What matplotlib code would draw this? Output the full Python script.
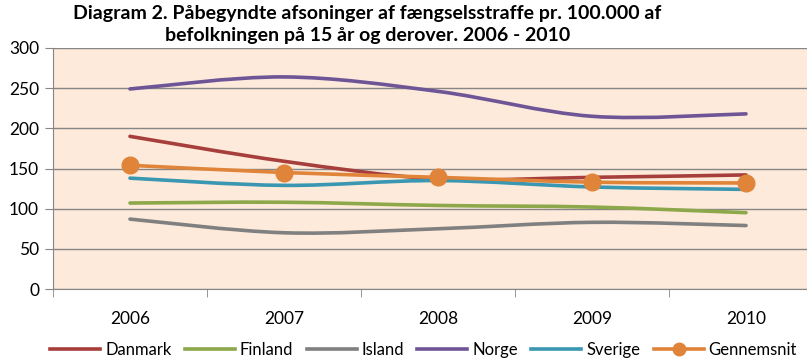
import matplotlib
matplotlib.use("Agg")
import matplotlib.pyplot as plt
from matplotlib.path import Path
from matplotlib.patches import PathPatch
from matplotlib.lines import Line2D
import numpy as np

years = ["2006", "2007", "2008", "2009", "2010"]
danmark = [190, 159, 137, 139, 142]
finland = [107, 108, 104, 102, 95]
island = [87, 70, 75, 83, 79]
norge = [249, 264, 246, 215, 218]
sverige = [138, 129, 135, 127, 124]
gennemsnit = [154, 145, 139, 133, 132]

series = [
    ("Danmark", danmark, "#A63F3C"),
    ("Finland", finland, "#8CA84A"),
    ("Island", island, "#808080"),
    ("Norge", norge, "#6E5596"),
    ("Sverige", sverige, "#3A97B1"),
    ("Gennemsnit", gennemsnit, "#E0843A"),
]

plt.rcParams['font.family'] = ['Lato', 'DejaVu Sans']


def smooth_path(xs, ys):
    # catmull-rom style bezier segments, like Excel's smoothed lines
    pts = np.column_stack([xs, ys]).astype(float)
    n = len(pts)
    verts = [pts[0]]
    codes = [Path.MOVETO]
    for i in range(n - 1):
        p0 = pts[i - 1] if i > 0 else pts[i]
        p1 = pts[i]
        p2 = pts[i + 1]
        p3 = pts[i + 2] if i + 2 < n else pts[i + 1]
        c1 = p1 + (p2 - p0) / 6.0
        c2 = p2 - (p3 - p1) / 6.0
        verts += [c1, c2, p2]
        codes += [Path.CURVE4] * 3
    return Path(verts, codes)


fig = plt.figure(figsize=(8.07, 3.62), dpi=100)
ax = fig.add_axes([53 / 807, 73 / 362, 770 / 807, 241 / 362])
ax.set_facecolor("#FDEADA")

x = np.arange(len(years))
handles = []
for name, vals, col in series:
    patch = PathPatch(smooth_path(x, vals), facecolor="none", edgecolor=col,
                      lw=2.6, capstyle="round", joinstyle="round", zorder=3)
    ax.add_patch(patch)
    if name == "Gennemsnit":
        ax.plot(x, vals, linestyle="none", marker="o", ms=12, color=col,
                zorder=4)
        handles.append(Line2D([], [], color=col, lw=2.6, marker="o", ms=9))
    else:
        handles.append(Line2D([], [], color=col, lw=2.6))

ax.set_xlim(-0.5, 4.5)
ax.set_ylim(0, 300)
ax.set_yticks(range(0, 301, 50))
ax.set_xticks(x)
ax.set_xticklabels(years)
ax.set_xticks(np.arange(-0.5, 4.6, 1), minor=True)
ax.tick_params(axis="x", which="major", length=0, pad=16, labelsize=12.5)
ax.tick_params(axis="x", which="minor", length=6, color="#868686",
               direction="out")
ax.tick_params(axis="y", length=6, color="#868686", direction="out",
               labelsize=12.5, pad=4)
ax.grid(axis="y", color="#868686", lw=1)
ax.set_axisbelow(True)
for s in ["top", "right"]:
    ax.spines[s].set_visible(False)
for s in ["left", "bottom"]:
    ax.spines[s].set_color("#868686")

fig.text(0.455, 0.985, "Diagram 2. Påbegyndte afsoninger af fængselsstraffe pr. 100.000 af\n"
         "befolkningen på 15 år og derover. 2006 - 2010",
         ha="center", va="top", fontsize=14, fontweight="bold",
         linespacing=1.3)

fig.legend(handles, [s[0] for s in series], loc="lower center",
           bbox_to_anchor=(0.525, -0.03), ncol=6, frameon=False, fontsize=12,
           handlelength=3.0, handletextpad=0.3, columnspacing=0.8)

fig.savefig("out.png", dpi=100)
